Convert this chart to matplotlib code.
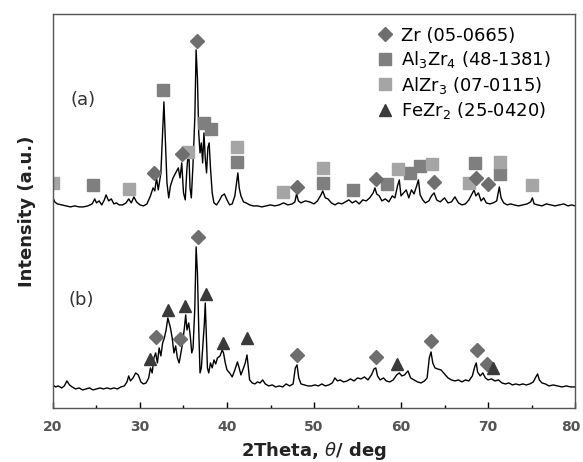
import numpy as np
import matplotlib.pyplot as plt
import matplotlib.transforms as mtransforms
from matplotlib.lines import Line2D

# 曲线 (a)：2θ 与强度（任意单位，读图所得）
tt_a = [20.0, 20.2, 20.5, 21.0, 21.5, 22.0, 22.5, 23.0, 23.5, 24.0, 24.5, 24.8, 25.0, 25.3, 25.6, 25.9,
        26.1, 26.4, 26.7, 27.0, 27.3, 27.6, 28.0, 28.4, 28.7, 29.0, 29.3, 29.6, 30.0, 30.4, 30.8, 31.2,
        31.5, 31.7, 31.9, 32.1, 32.4, 32.6, 32.75, 32.9, 33.1, 33.3, 33.5, 33.8, 34.1, 34.4, 34.6, 34.8,
        35.0, 35.2, 35.4, 35.6, 35.75, 35.9, 36.1, 36.3, 36.45, 36.6, 36.75, 36.9, 37.05, 37.2, 37.35,
        37.5, 37.65, 37.8, 37.95, 38.1, 38.3, 38.5, 38.8, 39.1, 39.4, 39.7, 40.0, 40.3, 40.6, 40.9, 41.1,
        41.25, 41.4, 41.6, 41.9, 42.2, 42.6, 43.0, 43.5, 44.0, 44.5, 45.0, 45.5, 46.0, 46.5, 47.0, 47.5,
        47.8, 48.0, 48.2, 48.5, 49.0, 49.5, 50.0, 50.4, 50.8, 51.0, 51.3, 51.6, 52.0, 52.4, 52.8, 53.2,
        53.6, 54.0, 54.4, 54.8, 55.2, 55.6, 56.0, 56.4, 56.8, 57.0, 57.2, 57.5, 57.8, 58.2, 58.6, 59.0,
        59.3, 59.6, 59.8, 60.0, 60.3, 60.6, 60.9, 61.2, 61.5, 61.8, 62.0, 62.2, 62.5, 62.8, 63.2, 63.5,
        63.8, 64.1, 64.5, 65.0, 65.4, 65.8, 66.2, 66.6, 67.0, 67.4, 67.8, 68.1, 68.4, 68.6, 68.9, 69.2,
        69.5, 69.8, 70.2, 70.6, 71.0, 71.3, 71.5, 71.8, 72.2, 72.6, 73.0, 73.5, 74.0, 74.5, 74.9, 75.1,
        75.3, 75.7, 76.2, 76.7, 77.2, 77.7, 78.2, 78.7, 79.2, 79.6, 80.0]
I_a = [210, 206, 204, 203, 202, 201, 202, 201, 201, 202, 204, 209, 205, 207, 203, 208,
       213, 207, 209, 204, 205, 203, 203, 205, 209, 205, 211, 206, 203, 202, 204, 212,
       220, 217, 230, 218, 235, 275, 306, 270, 225, 210, 222, 230, 235, 240, 230, 245,
       215, 208, 240, 260, 220, 210, 245, 290, 358, 330, 275, 255, 265, 245, 275,
       250, 235, 260, 265, 240, 215, 205, 203, 207, 212, 214, 208, 203, 204, 212, 225,
       235, 220, 212, 206, 205, 203, 202, 202, 201, 202, 203, 202, 203, 205, 203, 204,
       206, 214, 207, 205, 207, 206, 204, 207, 213, 217, 210, 209, 205, 203, 205, 204,
       206, 208, 205, 207, 204, 208, 207, 210, 215, 220, 214, 212, 207, 209, 206, 212,
       210, 222, 228, 212, 215, 218, 210, 218, 214, 222, 228, 213, 208, 205, 207, 212,
       215, 208, 206, 210, 205, 206, 211, 205, 203, 204, 208, 213, 218, 212, 215, 207,
       210, 205, 204, 205, 207, 221, 210, 205, 203, 204, 203, 202, 203, 204, 206, 210,
       204, 203, 202, 204, 203, 202, 203, 204, 202, 203, 202]

# 曲线 (b)
tt_b = [20.0, 20.3, 20.6, 21.0, 21.3, 21.6, 21.9, 22.2, 22.6, 23.0, 23.4, 23.8, 24.2, 24.6, 25.0, 25.4,
        25.8, 26.2, 26.6, 27.0, 27.4, 27.8, 28.2, 28.5, 28.7, 28.9, 29.2, 29.5, 29.8, 30.1, 30.4, 30.7,
        31.0, 31.2, 31.4, 31.6, 31.8, 32.0, 32.2, 32.4, 32.6, 32.8, 33.0, 33.2, 33.35, 33.5, 33.7, 33.9,
        34.1, 34.3, 34.5, 34.7, 34.9, 35.1, 35.25, 35.4, 35.6, 35.8, 35.95, 36.1, 36.3, 36.45, 36.6,
        36.75, 36.9, 37.05, 37.2, 37.4, 37.5, 37.6, 37.75, 37.9, 38.1, 38.3, 38.5, 38.7, 38.9, 39.2,
        39.45, 39.6, 39.8, 40.0, 40.3, 40.6, 40.9, 41.2, 41.4, 41.6, 41.9, 42.1, 42.3, 42.45, 42.6, 42.9,
        43.2, 43.5, 43.8, 44.1, 44.4, 44.8, 45.2, 45.6, 46.0, 46.4, 46.8, 47.2, 47.6, 47.85, 48.05, 48.25,
        48.5, 48.9, 49.3, 49.7, 50.1, 50.5, 50.9, 51.3, 51.7, 52.1, 52.4, 52.7, 53.0, 53.4, 53.8, 54.2,
        54.6, 55.0, 55.4, 55.8, 56.2, 56.6, 56.9, 57.1, 57.3, 57.6, 58.0, 58.3, 58.7, 59.1, 59.5, 59.8,
        60.1, 60.4, 60.8, 61.1, 61.5, 61.9, 62.3, 62.7, 63.0, 63.25, 63.45, 63.65, 63.9, 64.2, 64.6, 65.0,
        65.4, 65.8, 66.2, 66.6, 67.0, 67.4, 67.8, 68.2, 68.5, 68.65, 68.8, 69.1, 69.4, 69.7, 70.0, 70.4,
        70.8, 71.2, 71.6, 72.0, 72.4, 72.8, 73.2, 73.6, 74.0, 74.4, 74.8, 75.2, 75.5, 75.7, 75.9, 76.2,
        76.6, 77.0, 77.5, 78.0, 78.5, 79.0, 79.5, 80.0]
I_b = [23, 21, 22, 20, 22, 27, 23, 21, 19, 20, 18, 19, 20, 18, 19, 20,
       19, 20, 19, 20, 19, 21, 22, 26, 32, 27, 30, 35, 33, 26, 24, 25,
       30, 40, 35, 50, 55, 45, 60, 52, 65, 70, 78, 90, 85, 80, 70, 55,
       62, 50, 45, 55, 65, 80, 93, 78, 85, 70, 55, 60, 100, 161, 135,
       80, 35, 40, 60, 85, 105, 80, 40, 35, 45, 40, 48, 44, 50, 52,
       58, 55, 45, 38, 35, 31, 38, 46, 40, 33, 40, 45, 53, 40, 28, 25,
       24, 26, 25, 28, 24, 22, 23, 21, 22, 21, 24, 22, 24, 40, 43, 30,
       24, 23, 22, 22, 23, 22, 24, 22, 23, 25, 30, 27, 28, 26, 27, 29,
       27, 30, 29, 31, 28, 33, 39, 40, 32, 28, 30, 27, 26, 28, 33, 35,
       32, 33, 37, 30, 28, 26, 25, 27, 30, 50, 56, 45, 40, 39, 38, 34,
       30, 28, 27, 28, 26, 28, 27, 32, 42, 45, 36, 32, 35, 30, 28, 29,
       27, 28, 25, 24, 25, 23, 24, 23, 24, 23, 24, 26, 31, 34, 28, 25,
       24, 22, 23, 22, 21, 22, 21, 21]

# 物相标记位置
zr_a_x = [31.6, 34.8, 36.6, 48.1, 57.1, 63.8, 68.6, 70.0]
zr_a_y = [235, 254, 367, 221, 229, 226, 230, 224]
al3zr4_x = [24.6, 32.7, 37.3, 38.2, 41.2, 51.0, 54.5, 58.35, 61.0, 62.2, 68.5, 71.4]
al3zr4_y = [223, 318, 285, 279, 246, 225, 218, 224, 235, 242, 245, 234]
alzr3_x = [20.0, 28.7, 35.5, 41.2, 46.4, 51.0, 59.7, 63.6, 67.8, 71.4, 75.0]
alzr3_y = [225, 219, 256, 261, 216, 240, 239, 244, 225, 246, 223]
fezr2_x = [31.15, 33.25, 35.2, 37.6, 39.5, 42.3, 59.5, 70.6]
fezr2_y = [49, 98, 102, 114, 65, 70, 44, 40]
zr_b_x = [31.8, 34.6, 36.7, 48.0, 57.1, 63.45, 68.7, 69.85]
zr_b_y = [71, 69, 171, 53, 51, 67, 58, 44]

c_zr = '#6e6e6e'
c_al3zr4 = '#7f7f7f'
c_alzr3 = '#a5a5a5'
c_fezr2 = '#3a3a3a'

fig = plt.figure(figsize=(5.83, 4.62), dpi=100)
ax = fig.add_axes([0.0909, 0.117, 0.8954, 0.853])

ax.plot(tt_a, I_a, color='black', lw=1.0)
ax.plot(tt_b, I_b, color='black', lw=1.0)

ax.plot(al3zr4_x, al3zr4_y, 's', color=c_al3zr4, ms=8.5, ls='none')
ax.plot(alzr3_x, alzr3_y, 's', color=c_alzr3, ms=8.5, ls='none')
ax.plot(zr_a_x, zr_a_y, 'D', color=c_zr, ms=7, ls='none')
ax.plot(zr_b_x, zr_b_y, 'D', color=c_zr, ms=7, ls='none')
ax.plot(fezr2_x, fezr2_y, '^', color=c_fezr2, ms=9, ls='none')

ax.text(23.45, 308, '(a)', fontsize=13, color='#333333', ha='center', va='center')
ax.text(23.3, 108, '(b)', fontsize=13, color='#333333', ha='center', va='center')

handles = [Line2D([], [], marker='D', color=c_zr, ms=7, ls='none'),
           Line2D([], [], marker='s', color=c_al3zr4, ms=8.5, ls='none'),
           Line2D([], [], marker='s', color=c_alzr3, ms=8.5, ls='none'),
           Line2D([], [], marker='^', color=c_fezr2, ms=9, ls='none')]
labels = ['Zr (05-0665)', r'Al$_3$Zr$_4$ (48-1381)', r'AlZr$_3$ (07-0115)', r'FeZr$_2$ (25-0420)']
ax.legend(handles, labels, loc='upper right', bbox_to_anchor=(0.975, 0.995), frameon=False,
          fontsize=13, handlelength=1.0, handletextpad=0.4, labelspacing=0.25, borderaxespad=0.2)

ax.set_xlim(20, 80)
ax.set_ylim(0, 394)
ax.set_xticks([20, 30, 40, 50, 60, 70, 80])
ax.set_xticks([25, 35, 45, 55, 65, 75], minor=True)
ax.set_yticks([])
ax.tick_params(axis='x', which='major', direction='in', length=4, width=1, pad=9,
               labelsize=10, labelcolor='#555555')
ax.tick_params(axis='x', which='minor', direction='in', length=2.5, width=1)
for lab in ax.get_xticklabels():
    lab.set_fontweight('bold')
# 最右边的 80 稍微左移，避免被裁掉
last = ax.get_xticklabels()[-1]
last.set_transform(last.get_transform() + mtransforms.ScaledTranslation(-4 / 100, 0, fig.dpi_scale_trans))
for sp in ax.spines.values():
    sp.set_color('#555555')
    sp.set_linewidth(1.0)

ax.set_xlabel(r'2Theta, $\theta$/ deg', fontsize=13, fontweight='bold', color='#222222', labelpad=4)
ax.set_ylabel('Intensity (a.u.)', fontsize=13, fontweight='bold', color='#222222', labelpad=12)

fig.savefig('out.png', dpi=100)
